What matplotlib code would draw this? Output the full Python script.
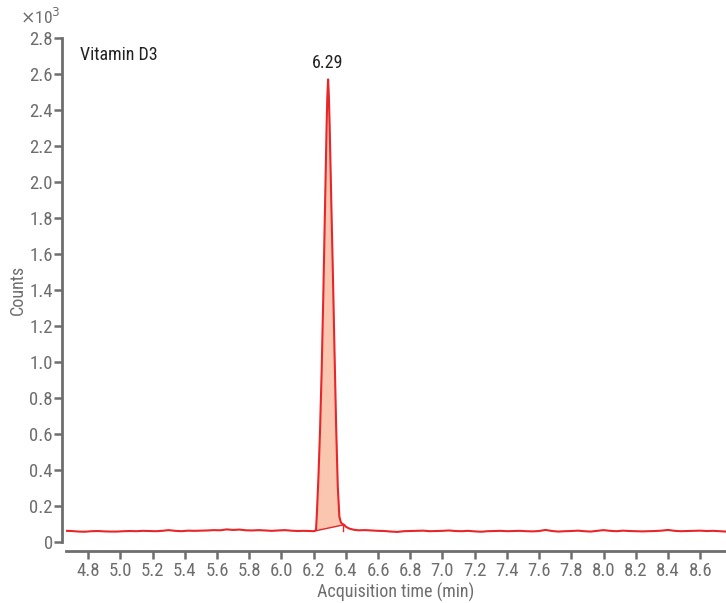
import numpy as np
import matplotlib
matplotlib.use("Agg")
import matplotlib.pyplot as plt

plt.rcParams['font.family'] = ['Roboto Condensed', 'IBM Plex Sans Condensed', 'DejaVu Sans']

# baseline before peak (counts x10^3), start 4.66 min, step 0.04
pre_start, step = 4.66, 0.04
pre_vals = [0.062, 0.061, 0.058, 0.057, 0.060, 0.061, 0.059, 0.058, 0.058, 0.060,
            0.061, 0.060, 0.062, 0.061, 0.060, 0.062, 0.066, 0.062, 0.060, 0.063,
            0.062, 0.063, 0.064, 0.066, 0.065, 0.070, 0.067, 0.069, 0.065, 0.064,
            0.066, 0.064, 0.062, 0.064, 0.066, 0.063, 0.061, 0.062, 0.061]
# peak region
peak_t = [6.20, 6.21, 6.215, 6.22, 6.23, 6.24, 6.25, 6.26, 6.27, 6.28, 6.285, 6.29, 6.295,
          6.30, 6.31, 6.32, 6.33, 6.34, 6.35, 6.36, 6.37, 6.38, 6.39, 6.40, 6.42, 6.45, 6.48]
peak_v = [0.060, 0.062, 0.070, 0.15, 0.36, 0.62, 0.95, 1.36, 1.82, 2.28, 2.47, 2.57, 2.47,
          2.30, 1.88, 1.48, 1.05, 0.64, 0.31, 0.14, 0.108, 0.100, 0.095, 0.085, 0.075, 0.068, 0.065]
# baseline after peak, start 6.52 min
post_start = 6.52
post_vals = [0.066, 0.064, 0.062, 0.061, 0.058, 0.056, 0.060, 0.061, 0.062, 0.063,
             0.060, 0.061, 0.062, 0.064, 0.061, 0.060, 0.062, 0.059, 0.057, 0.060,
             0.061, 0.062, 0.060, 0.061, 0.062, 0.060, 0.059, 0.061, 0.067, 0.061,
             0.058, 0.060, 0.061, 0.063, 0.060, 0.058, 0.062, 0.066, 0.062, 0.060,
             0.063, 0.061, 0.060, 0.059, 0.060, 0.061, 0.063, 0.067, 0.062, 0.060,
             0.061, 0.062, 0.063, 0.061, 0.062, 0.060, 0.058, 0.060]
# integration window
int_start, int_end = 6.216, 6.384
int_base = [0.063, 0.095]

peak_label = "6.29"
peak_rt, peak_h = 6.29, 2.57
xticks = [4.8, 5.0, 5.2, 5.4, 5.6, 5.8, 6.0, 6.2, 6.4, 6.6, 6.8, 7.0, 7.2, 7.4,
          7.6, 7.8, 8.0, 8.2, 8.4, 8.6]
yticks = [0, 0.2, 0.4, 0.6, 0.8, 1.0, 1.2, 1.4, 1.6, 1.8, 2.0, 2.2, 2.4, 2.6, 2.8]
ytick_labels = ["0", "0.2", "0.4", "0.6", "0.8", "1.0", "1.2", "1.4", "1.6", "1.8",
                "2.0", "2.2", "2.4", "2.6", "2.8"]

t = np.concatenate([pre_start + step * np.arange(len(pre_vals)),
                    np.array(peak_t),
                    post_start + step * np.arange(len(post_vals))])
v = np.concatenate([pre_vals, peak_v, post_vals])

fig = plt.figure(figsize=(7.26, 6.03), dpi=100)
W, H = 726, 603
ax = fig.add_axes([66 / W, 1 - 551 / H, (726 - 66) / W, (551 - 29) / H])

red = '#e8262a'
gray = '#6e6e6e'

# fill of integrated area
ti = np.linspace(int_start, int_end, 200)
vi = np.interp(ti, t, v)
bi = np.interp(ti, [int_start, int_end], int_base)
ax.fill_between(ti, bi, vi, color='#fbc6b0', lw=0, zorder=1)
ax.plot([int_start, int_end], int_base, color=red, lw=1.0, zorder=2)
ax.plot([int_end, int_end], [0.060, int_base[1]], color=red, lw=1.0, zorder=2)

ax.plot(t, v, color=red, lw=1.5, zorder=3)

ax.set_xlim(4.663, 8.76)
ax.set_ylim(-0.05, 2.85)
ax.set_xticks(xticks)
ax.set_xticklabels([f"{x:.1f}" for x in xticks])
ax.set_yticks(yticks)
ax.set_yticklabels(ytick_labels)

for s in ['top', 'right']:
    ax.spines[s].set_visible(False)
ax.spines['left'].set_bounds(0, 2.8)
ax.spines['left'].set_position(('outward', 3))
for s in ['left', 'bottom']:
    ax.spines[s].set_color(gray)
    ax.spines[s].set_linewidth(2.0)
ax.tick_params(axis='both', colors=gray, labelcolor=gray, labelsize=13.5,
               length=6, width=1.8)
ax.tick_params(axis='y', pad=0.5)
ax.tick_params(axis='x', pad=2)

ax.set_xlabel("Acquisition time (min)", fontsize=13, color=gray, labelpad=2)
ax.set_ylabel("Counts", fontsize=13, color=gray, labelpad=2)

ax.text(80 / W, 1 - 55 / H, "Vitamin D3", transform=fig.transFigure,
        fontsize=13, color='#222222', va='center', ha='left')
ax.text(peak_rt, peak_h + 0.04, peak_label, fontsize=13, color='#222222',
        ha='center', va='bottom')
fig.text(20 / W, 1 - 17 / H, r"$\times$10$^3$", fontsize=12.5, color=gray,
         va='center', ha='left')

fig.savefig("out.png", dpi=100)
